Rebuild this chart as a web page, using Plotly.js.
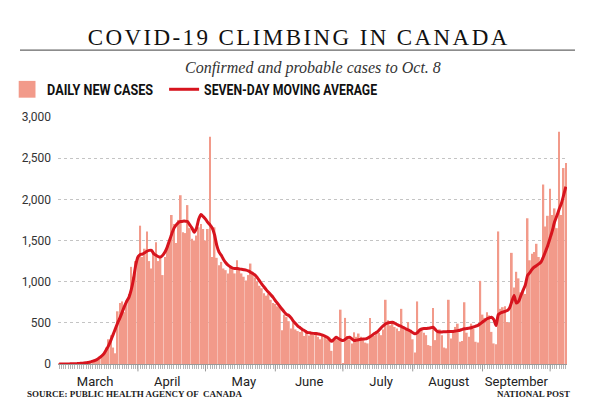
<!DOCTYPE html>
<html>
<head>
<meta charset="utf-8">
<script src="https://cdn.plot.ly/plotly-3.0.1.min.js"></script>
<style>
  html, body { margin: 0; padding: 0; background: #fff; }
  #chart { width: 601px; height: 410px; }
</style>
</head>
<body>
<div id="chart"></div>
<script>
// ---- Data ----
var startDate = '2020-02-26';

var febCases = [1,1,3,4];
var marCases = [4,3,6,5,8,10,12,14,16,22, 28,36,50,60,90,110,140,200,300,350, 200,130,640,740,760,630,770,850,1180,1060, 1250];
var aprCases = [1300,1680,1300,1400,1610,1250,1160,1360,1480,1250, 1300,1080,1300,1420,1500,1810,1700,1470,1750,2050, 1600,1590,1930,1650,1520,1500,1560,1660,1700,1640];
var mayCases = [1500,1640,2760,1300,1660,1290,1200,1240,1160,1140, 1100,1180,1150,1100,1260,1150,1100,1060,1015,1080, 1220,1100,1050,1000,950,920,860,830,850,780, 740];
var junCases = [730,700,690,410,600,570,520,430,500,420, 400,390,410,340,380,345,370,355,380,330, 300,360,350,300,330,160,280,300,290,660];
var julCases = [5,560,340,300,250,385,330,370,330,300, 260,250,560,330,340,400,380,350,420,780, 530,470,500,450,430,400,670,460,420,510, 400];
var augCases = [300,140,760,400,420,380,350,230,220,680, 290,380,420,350,200,190,780,310,400,450, 490,270,280,750,380,330,490,430,270,260, 1010];
var sepCases = [600,560,630,590,390,250,240,1610,670,690, 700,510,500,1350,930,1120,1040,870,900,850, 1770,1260,1340,1360,1460,1300,1250,2180,1670,1800];
var octCases = [2130,1810,1890,1650,2820,1810,2380,2440];

var febAvg = [0,0,0,1];
var marAvg = [1,2,3,4,5,7,9,11,14,20, 26,34,44,58,77,100,130,175,225,290, 360,430,500,560,630,700,760,810,900,1030, 1200];
var aprAvg = [1300,1330,1335,1350,1370,1380,1382,1340,1320,1305, 1300,1320,1360,1420,1500,1580,1650,1690,1720,1730, 1735,1735,1730,1690,1650,1600,1650,1760,1815,1790];
var mayAvg = [1760,1720,1690,1650,1570,1440,1360,1320,1270,1230, 1200,1180,1165,1160,1160,1155,1150,1145,1140,1130, 1115,1100,1080,1050,1010,970,935,900,870,840, 810];
var junAvg = [770,735,700,665,630,600,590,560,520,490, 460,440,420,405,385,380,375,372,370,365, 360,350,340,325,300,275,300,325,310,295];
var julAvg = [285,300,320,325,305,285,290,295,300,305, 305,315,330,350,370,385,410,440,465,488, 500,505,507,495,480,467,455,440,427,415, 400];
var augAvg = [380,366,380,410,425,430,430,435,440,446, 420,394,390,390,392,393,394,394,396,400, 405,410,420,427,430,435,440,450,460,470, 488];
var sepAvg = [510,530,550,560,568,540,467,600,620,630, 640,650,680,760,833,740,760,830,894,960, 1077,1110,1150,1178,1195,1215,1240,1300,1370,1443];
var octAvg = [1530,1620,1727,1800,1880,1950,2050,2154];

var yTickVals = [0,500,1000,1500,2000,2500,3000];
var yTickText = ['0','500','1,000','1,500','2,000','2,500','3,000'];

// month label positions (as drawn in the reference) and month boundaries
var monthLabelDates = ['2020-03-13','2020-04-14','2020-05-18','2020-06-16','2020-07-18','2020-08-17','2020-09-16'];
var monthLabels = ['March','April','May','June','July','August','September'];
var monthStarts = ['2020-04-01','2020-05-01','2020-06-01','2020-07-01','2020-08-01','2020-09-01','2020-10-01'];

var titleText = 'COVID-19 CLIMBING IN CANADA';
var subtitleText = 'Confirmed and probable cases to Oct. 8';
var barName = 'DAILY NEW CASES';
var lineName = 'SEVEN-DAY MOVING AVERAGE';
var sourceText = 'SOURCE: PUBLIC HEALTH AGENCY OF  CANADA';
var creditText = 'NATIONAL POST';

// ---- Build series ----
var cases = [].concat(febCases, marCases, aprCases, mayCases, junCases, julCases, augCases, sepCases, octCases);
var avg = [].concat(febAvg, marAvg, aprAvg, mayAvg, junAvg, julAvg, augAvg, sepAvg, octAvg);
var dates = [];
var t0 = Date.parse(startDate + 'T00:00:00Z');
for (var i = 0; i < cases.length; i++) {
  dates.push(new Date(t0 + i * 86400000).toISOString().slice(0, 10));
}

var sans = 'Roboto, "Liberation Sans", sans-serif';
var serif = '"Liberation Serif", "DejaVu Serif", serif';

var traces = [
  {
    type: 'bar', x: dates, y: cases, name: barName,
    marker: { color: '#f29a8a', line: { width: 0 } },
    hoverinfo: 'x+y'
  },
  {
    type: 'scatter', mode: 'lines', x: dates, y: avg, name: lineName,
    line: { color: '#d7141e', width: 3, shape: 'spline', smoothing: 0.6 },
    hoverinfo: 'x+y'
  }
];

var shapes = [
  { type: 'line', xref: 'paper', yref: 'paper', x0: -0.0747, x1: 1.0157, y0: 1.271, y1: 1.271,
    line: { color: '#666', width: 1.3 } }
];
monthStarts.forEach(function (d) {
  shapes.push({ type: 'line', xref: 'x', yref: 'paper', x0: d, x1: d, y0: 0, y1: -0.03,
    line: { color: '#9a9a9a', width: 1 } });
});

var layout = {
  width: 601, height: 410,
  margin: { l: 58, r: 34, t: 117, b: 46, autoexpand: false },
  paper_bgcolor: '#fff', plot_bgcolor: '#fff',
  bargap: 0.22,
  showlegend: true,
  legend: {
    orientation: 'h', x: -0.1, xanchor: 'left', y: 1.178, yanchor: 'top',
    font: { family: sans, size: 15, color: '#111', weight: 'bold' },
    itemwidth: 30, entrywidth: 112, entrywidthmode: 'pixels',
    traceorder: 'normal', bgcolor: 'rgba(0,0,0,0)'
  },
  title: {
    text: titleText, xref: 'container', x: 0.497, xanchor: 'center',
    yref: 'container', y: 0.91, yanchor: 'middle',
    font: { family: serif, size: 23, color: '#111' }
  },
  xaxis: {
    type: 'date',
    range: ['2020-02-25 12:00', '2020-10-08 12:00'],
    tickvals: monthLabelDates, ticktext: monthLabels,
    ticks: 'outside', ticklen: 5, tickcolor: 'rgba(0,0,0,0)', tickwidth: 1,
    showline: true, linecolor: '#9a9a9a', linewidth: 1,
    showgrid: false, zeroline: false,
    minor: { ticks: 'outside', tick0: '2020-02-26', dtick: 86400000, ticklen: 4, tickcolor: '#b5b5b5', tickwidth: 1, showgrid: false },
    tickfont: { family: sans, size: 13, color: '#222' },
    fixedrange: true
  },
  yaxis: {
    range: [0, 3000],
    tickvals: yTickVals, ticktext: yTickText,
    showgrid: true, gridcolor: '#c4c4c4', griddash: 'dot', gridwidth: 1,
    zeroline: false, showline: false, ticks: '', ticklabelstandoff: 6,
    tickfont: { family: sans, size: 12, color: '#333' },
    fixedrange: true
  },
  shapes: shapes,
  annotations: [
    { text: subtitleText, xref: 'paper', yref: 'paper', x: 0.50, y: 1.198, xanchor: 'center', yanchor: 'middle',
      showarrow: false, font: { family: serif, size: 16, color: '#333', style: 'italic' } },
    { text: '<b>' + sourceText + '</b>', xref: 'paper', yref: 'paper', x: -0.065, y: -0.122, xanchor: 'left', yanchor: 'middle',
      showarrow: false, font: { family: serif, size: 9, color: '#222' } },
    { text: '<b>' + creditText + '</b>', xref: 'paper', yref: 'paper', x: 1.0098, y: -0.122, xanchor: 'right', yanchor: 'middle',
      showarrow: false, font: { family: serif, size: 9, color: '#222' } }
  ]
};

var legendWidths = [106, 173];

Plotly.newPlot('chart', traces, layout, { displayModeBar: false }).then(function (gd) {
  var t = gd.querySelector('.gtitle');
  if (t) { t.style.letterSpacing = '2.4px'; }
  // let the legend entries show in full (no clipping), condensed to the reference widths
  gd.querySelectorAll('.legend .scrollbox, .legend').forEach(function (el) { el.removeAttribute('clip-path'); });
  var lt = gd.querySelectorAll('.legendtext');
  lt.forEach(function (el, k) {
    if (legendWidths[k]) {
      el.setAttribute('textLength', legendWidths[k]);
      el.setAttribute('lengthAdjust', 'spacingAndGlyphs');
    }
  });
  // larger colour square for the bar entry
  var items = gd.querySelectorAll('.legend .traces');
  if (items[0]) {
    items[0].querySelectorAll('.legendpoints path').forEach(function (p) {
      p.setAttribute('transform', (p.getAttribute('transform') || '') + ' scale(1.4)');
    });
  }
});
</script>
</body>
</html>
